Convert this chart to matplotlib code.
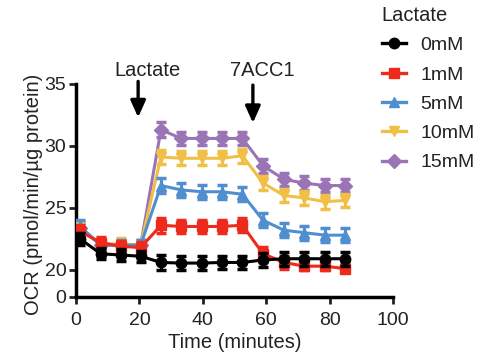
import numpy as np
import matplotlib
matplotlib.use("Agg")
import matplotlib.pyplot as plt
from matplotlib.lines import Line2D

plt.rcParams['font.family'] = ['Liberation Sans', 'DejaVu Sans']

time = [1.3, 7.8, 14.1, 20.4, 26.8, 33.2, 39.6, 46.0, 52.5, 59.0, 65.6, 72.0, 78.5, 85.0]
labels = ["0mM", "1mM", "5mM", "10mM", "15mM"]
ocr_0 = [22.5, 21.3, 21.2, 21.1, 20.6, 20.55, 20.55, 20.6, 20.6, 20.8, 20.9, 20.9, 20.9, 20.9]
ocr_1 = [23.1, 22.2, 21.9, 21.8, 23.6, 23.5, 23.5, 23.5, 23.6, 21.3, 20.6, 20.3, 20.3, 20.1]
ocr_5 = [23.5, 22.0, 22.0, 22.0, 26.8, 26.45, 26.3, 26.3, 26.1, 24.0, 23.2, 23.0, 22.8, 22.8]
ocr_10 = [23.3, 22.1, 22.1, 22.0, 29.1, 29.0, 29.0, 29.0, 29.2, 27.0, 26.0, 25.8, 25.5, 25.6]
ocr_15 = [23.4, 22.0, 22.0, 22.0, 31.3, 30.6, 30.6, 30.6, 30.6, 28.4, 27.3, 27.0, 26.8, 26.8]
err = [0.5, 0.45, 0.45, 0.45, 0.6, 0.55, 0.55, 0.55, 0.55, 0.55, 0.55, 0.55, 0.55, 0.55]
series = [ocr_0, ocr_1, ocr_5, ocr_10, ocr_15]
colors = ["#000000", "#ee2a1c", "#4f8fd0", "#f1bf45", "#9a74b4"]
markers = ["o", "s", "^", "v", "D"]
yticks = [0, 20, 25, 30, 35]
xticks = [0, 20, 40, 60, 80, 100]
arrow_times = [19.6, 55.8]
arrow_tips = [32.3, 31.85]
arrow_tops = [35.2, 34.9]
text_times = [22.7, 58.7]
arrow_labels = ["Lactate", "7ACC1"]

k = 0.109
def fwd(y):
    y = np.asarray(y, float)
    return np.where(y >= 20, y, 20 - (20 - y) * k)
def inv(y):
    y = np.asarray(y, float)
    return np.where(y >= 20, y, 20 - (20 - y) / k)

fig = plt.figure(figsize=(5.0, 3.63), dpi=100)
ax = fig.add_axes([0.152, 0.182, 0.634, 0.587])
ax.set_yscale('function', functions=(fwd, inv))

for i in reversed(range(len(series))):
    ax.errorbar(time, series[i], yerr=err, color=colors[i], marker=markers[i],
                markersize=7.5, linewidth=2.2, elinewidth=2.2, capsize=3.5, capthick=2.5,
                label=labels[i], zorder=3 + (len(series) - i))

ax.set_xlim(0, 100)
ax.set_ylim(0, 35)
ax.set_xticks(xticks)
ax.set_yticks(yticks)
ax.tick_params(labelsize=14, width=2, length=5, direction='out', colors='#222222', pad=2)
ax.tick_params(axis='x', pad=6)
for s in ['top', 'right']:
    ax.spines[s].set_visible(False)
for s in ['left', 'bottom']:
    ax.spines[s].set_linewidth(2.5)
ax.set_xlabel("Time (minutes)", fontsize=14.5, labelpad=3, color='#222222')
ax.set_ylabel("OCR (pmol/min/µg protein)", fontsize=14.5, color='#222222')
ax.yaxis.set_label_coords(-0.104, 0.48)

for t, tip, top in zip(arrow_times, arrow_tips, arrow_tops):
    ax.annotate("", xy=(t, tip), xytext=(t, top),
                arrowprops=dict(arrowstyle="-|>,head_width=0.45,head_length=1.0",
                                color='black', lw=2.4, shrinkA=0, shrinkB=0),
                annotation_clip=False)
for t, lab in zip(text_times, arrow_labels):
    ax.text(t, 36.1, lab, ha='center', va='center', fontsize=14.5,
            color='#222222', clip_on=False)

handles = [Line2D([], [], color=c, marker=m, markersize=7.5, linewidth=2.4)
           for c, m in zip(colors, markers)]
leg = fig.legend(handles, labels, title="Lactate", loc='upper left', bbox_to_anchor=(0.748, 1.005),
                 frameon=False, fontsize=14, title_fontsize=14.5, handlelength=1.25,
                 handletextpad=0.75, labelspacing=0.6, alignment='left',
                 borderaxespad=0.2, borderpad=0.2)
for t in leg.get_texts():
    t.set_color('#222222')
leg.get_title().set_color('#222222')

fig.savefig("out.png", dpi=100)
